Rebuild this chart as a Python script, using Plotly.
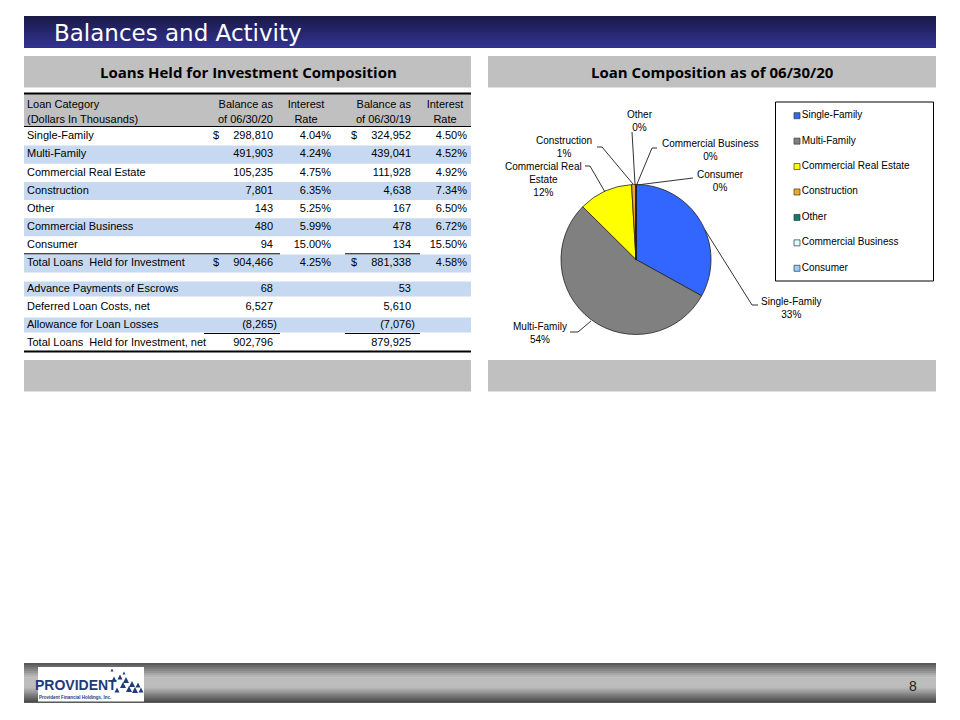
import plotly.graph_objects as go

# ---- data ----
categories = ["Single-Family", "Multi-Family", "Commercial Real Estate", "Construction",
              "Other", "Commercial Business", "Consumer"]
balance_2020 = [298810, 491903, 105235, 7801, 143, 480, 94]
rate_2020 = [4.04, 4.24, 4.75, 6.35, 5.25, 5.99, 15.00]
balance_2019 = [324952, 439041, 111928, 4638, 167, 478, 134]
rate_2019 = [4.50, 4.52, 4.92, 7.34, 6.50, 6.72, 15.50]

total_label = "Total Loans  Held for Investment"
total_2020 = 904466
total_rate_2020 = 4.25
total_2019 = 881338
total_rate_2019 = 4.58

adj_labels = ["Advance Payments of Escrows", "Deferred Loan Costs, net",
              "Allowance for Loan Losses", "Total Loans  Held for Investment, net"]
adj_2020 = [68, 6527, -8265, 902796]
adj_2019 = [53, 5610, -7076, 879925]

header_lines = [["Loan Category", "(Dollars In Thousands)"],
                ["Balance as", "of 06/30/20"], ["Interest", "Rate"],
                ["Balance as", "of 06/30/19"], ["Interest", "Rate"]]

slice_colors = ["#3366ff", "#808080", "#ffff00", "#f0a828", "#137a70", "#ddffff", "#99ccff"]

TFONT = "Liberation Sans, Arial, sans-serif"
NAVY = "#1f3a7a"


def money(v):
    return f"({abs(v):,})" if v < 0 else f"{v:,}"


def pct(v):
    return f"{v:.2f}%"


# row positions (pixels on the page axis)
def top_y(i):
    return 136.5 + i * 18.15


def adj_y(j):
    return 289 + j * 18


fig = go.Figure()
shapes = []


def rect(x0, y0, x1, y1, color, line=None, layer="below"):
    shapes.append(dict(type="rect", xref="x", yref="y", x0=x0, y0=y0, x1=x1, y1=y1,
                       fillcolor=color, line=line or dict(width=0), layer=layer))


def hline(x0, x1, y, w=1, color="black"):
    shapes.append(dict(type="line", xref="x", yref="y", x0=x0, x1=x1, y0=y, y1=y,
                       line=dict(color=color, width=w), layer="above"))


def mix(c1, c2, t):
    a = [int(c1[k:k + 2], 16) for k in (1, 3, 5)]
    b = [int(c2[k:k + 2], 16) for k in (1, 3, 5)]
    return "#" + "".join(f"{round(a[i] + (b[i] - a[i]) * t):02x}" for i in range(3))


# title bar gradient (each band runs to the bottom so no seams show)
n = 12
for k in range(n):
    y0 = 16 + k * (31.7 / n)
    rect(24, y0, 936, 47.7, mix("#1b1b4a", "#32328f", k / (n - 1)))

# section header boxes and empty boxes
for x0, x1 in [(24, 471), (488, 936)]:
    rect(x0, 56, x1, 87.5, "#c0c0c0")
    rect(x0, 360, x1, 391.5, "#c0c0c0")

# footer bar gradient
stops = [(0, "#5a5a5a"), (0.35, "#bebebe"), (0.62, "#bcbcbc"), (1, "#4c4c4c")]
n = 20
for k in range(n):
    t = k / (n - 1)
    for (ta, ca), (tb, cb) in zip(stops[:-1], stops[1:]):
        if ta <= t <= tb:
            c = mix(ca, cb, (t - ta) / (tb - ta))
            break
    y0 = 663 + k * (39.5 / n)
    rect(24, y0, 936, 702.5, c)
rect(38, 667, 144, 701.5, "white")
for tx, ty, s in [(114, 679, 5), (120, 677, 5), (126, 680, 6), (132, 684, 6), (138, 685, 5),
                  (123, 685, 6), (129, 689, 6), (135, 690, 6), (141, 690, 5), (117, 690, 5),
                  (124, 673, 3), (112, 670, 3)]:
    shapes.append(dict(type="path", xref="x", yref="y",
                       path=f"M {tx - s / 2},{ty + s / 2} L {tx + s / 2},{ty + s / 2} L {tx},{ty - s / 2} Z",
                       fillcolor=NAVY, line=dict(width=0), layer="above"))

# table header background
rect(24, 94, 471, 126, "#c0c0c0")

# blue row bands (as bars on the page axis)
band_y = [top_y(i) for i in range(8) if i % 2 == 1] + [adj_y(j) for j in range(4) if j % 2 == 0]
band_h = [18.15] * 4 + [15, 15]
fig.add_trace(go.Bar(orientation="h", y=band_y, x=[447] * len(band_y), base=[24] * len(band_y),
                     width=band_h, marker=dict(color="#c6d9f1", line=dict(width=0)),
                     hoverinfo="skip", showlegend=False))

# table rules
hline(24, 471, 93.5, 2)
hline(24, 471, 126.5, 1)
hline(24, 280, 253.8, 1)
hline(345, 420, 253.8, 1)
hline(204, 280, 333.5, 1)
hline(345, 420, 333.5, 1)
hline(24, 471, 351.5, 2)

tf = dict(family=TFONT, size=11, color="black")


def text_col(xs, ys, texts, pos):
    fig.add_trace(go.Scatter(x=xs, y=ys, text=texts, mode="text", textposition=pos,
                             textfont=tf, hoverinfo="skip", showlegend=False, cliponaxis=False))


# header text
hx = [(27, "middle right"), (273, "middle left"), (306, "middle center"),
      (411, "middle left"), (445, "middle center")]
for (x, p), lines in zip(hx, header_lines):
    text_col([x, x], [105, 120], lines, p)

names = categories + [total_label]
b20 = balance_2020 + [total_2020]
r20 = rate_2020 + [total_rate_2020]
b19 = balance_2019 + [total_2019]
r19 = rate_2019 + [total_rate_2019]
ys = [top_y(i) for i in range(len(names))]
ya = [adj_y(j) for j in range(len(adj_labels))]

text_col([27] * (len(names) + len(adj_labels)), ys + ya, names + adj_labels, "middle right")
text_col([273] * len(b20), ys, [money(v) for v in b20], "middle left")
text_col([331] * len(r20), ys, [pct(v) for v in r20], "middle left")
text_col([411] * len(b19), ys, [money(v) for v in b19], "middle left")
text_col([467] * len(r19), ys, [pct(v) for v in r19], "middle left")
text_col([273 + (4 if v < 0 else 0) for v in adj_2020], ya, [money(v) for v in adj_2020], "middle left")
text_col([411 + (4 if v < 0 else 0) for v in adj_2019], ya, [money(v) for v in adj_2019], "middle left")
dollar_rows = [ys[0], ys[-1]]
text_col([216, 216, 354, 354], dollar_rows * 2, ["$"] * 4, "middle center")

# pie chart
fig.add_trace(go.Pie(labels=categories, values=balance_2020, sort=False, direction="clockwise",
                     rotation=0, textinfo="none", hoverinfo="skip", showlegend=False,
                     marker=dict(colors=slice_colors, line=dict(color="#222222", width=0.8)),
                     domain=dict(x=[561 / 960, 711 / 960], y=[1 - 334.5 / 720, 1 - 184.5 / 720])))

# pie labels with leader lines
total = sum(balance_2020)
label_pos = [(791, 308), (540, 333), (543, 179), (564, 147), (640, 120.5), (710, 150), (720, 181)]
leaders = [[(705, 230), (752, 305), (758, 305)],
           [(591, 321), (578, 332), (570, 332)],
           [(605, 192), (590, 166), (585, 166)],
           [(633, 184), (602, 147), (597, 147)],
           [(635, 184), (632, 132)],
           [(637, 184), (652, 148), (657, 148)],
           [(637, 185), (693, 178)]]
annotations = []
for cat, v, (lx, ly), pts in zip(categories, balance_2020, label_pos, leaders):
    name = cat.replace("Commercial Real Estate", "Commercial Real<br>Estate")
    annotations.append(dict(x=lx, y=ly, xref="x", yref="y", showarrow=False,
                            text=f"{name}<br>{round(v / total * 100)}%", align="center",
                            font=dict(family=TFONT, size=10, color="black")))
    shapes.append(dict(type="path", xref="x", yref="y", layer="above",
                       path="M " + " L ".join(f"{x},{y}" for x, y in pts),
                       line=dict(color="#333333", width=1)))

# legend box drawn on the page axis
rect(775.5, 102, 933.5, 281, "white", line=dict(color="black", width=1))
fig.add_trace(go.Scatter(x=[797] * len(categories), y=[115.7 + i * 25.43 for i in range(len(categories))],
                         mode="markers+text", text=categories, textposition="middle right",
                         textfont=dict(family=TFONT, size=10, color="black"),
                         marker=dict(symbol="square", size=6, color=slice_colors,
                                     line=dict(color="#333333", width=0.7)),
                         hoverinfo="skip", showlegend=False, cliponaxis=False))

# slide text
annotations += [
    dict(x=52, y=33, xref="x", yref="y", xanchor="left", showarrow=False, text="Balances and Activity",
         font=dict(family="DejaVu Sans, Verdana, sans-serif", size=23, color="white")),
    dict(x=248, y=72, xref="x", yref="y", showarrow=False, text="<b>Loans Held for Investment Composition</b>",
         font=dict(family="Open Sans, Calibri, sans-serif", size=15, color="black")),
    dict(x=712, y=72, xref="x", yref="y", showarrow=False, text="<b>Loan Composition as of 06/30/20</b>",
         font=dict(family="Open Sans, Calibri, sans-serif", size=15, color="black")),
    dict(x=76, y=685, xref="x", yref="y", showarrow=False, text="<b>PROVIDENT</b>",
         font=dict(family="Liberation Sans Narrow, Liberation Sans, sans-serif", size=14, color=NAVY)),
    dict(x=75, y=697, xref="x", yref="y", showarrow=False, text="<b>Provident Financial Holdings, Inc.</b>",
         font=dict(family=TFONT, size=4.5, color=NAVY)),
    dict(x=913, y=686, xref="x", yref="y", showarrow=False, text="8",
         font=dict(family=TFONT, size=14, color="#222222")),
]

fig.update_layout(
    width=960, height=720, margin=dict(l=0, r=0, t=0, b=0),
    paper_bgcolor="white", plot_bgcolor="white",
    xaxis=dict(range=[0, 960], domain=[0, 1], visible=False, fixedrange=True),
    yaxis=dict(range=[720, 0], domain=[0, 1], visible=False, fixedrange=True),
    shapes=shapes, annotations=annotations, hovermode=False, showlegend=False,
)

fig.write_html("out.html", config=dict(displayModeBar=False),
               post_script="document.body.style.margin='0';document.body.style.overflow='hidden';")
